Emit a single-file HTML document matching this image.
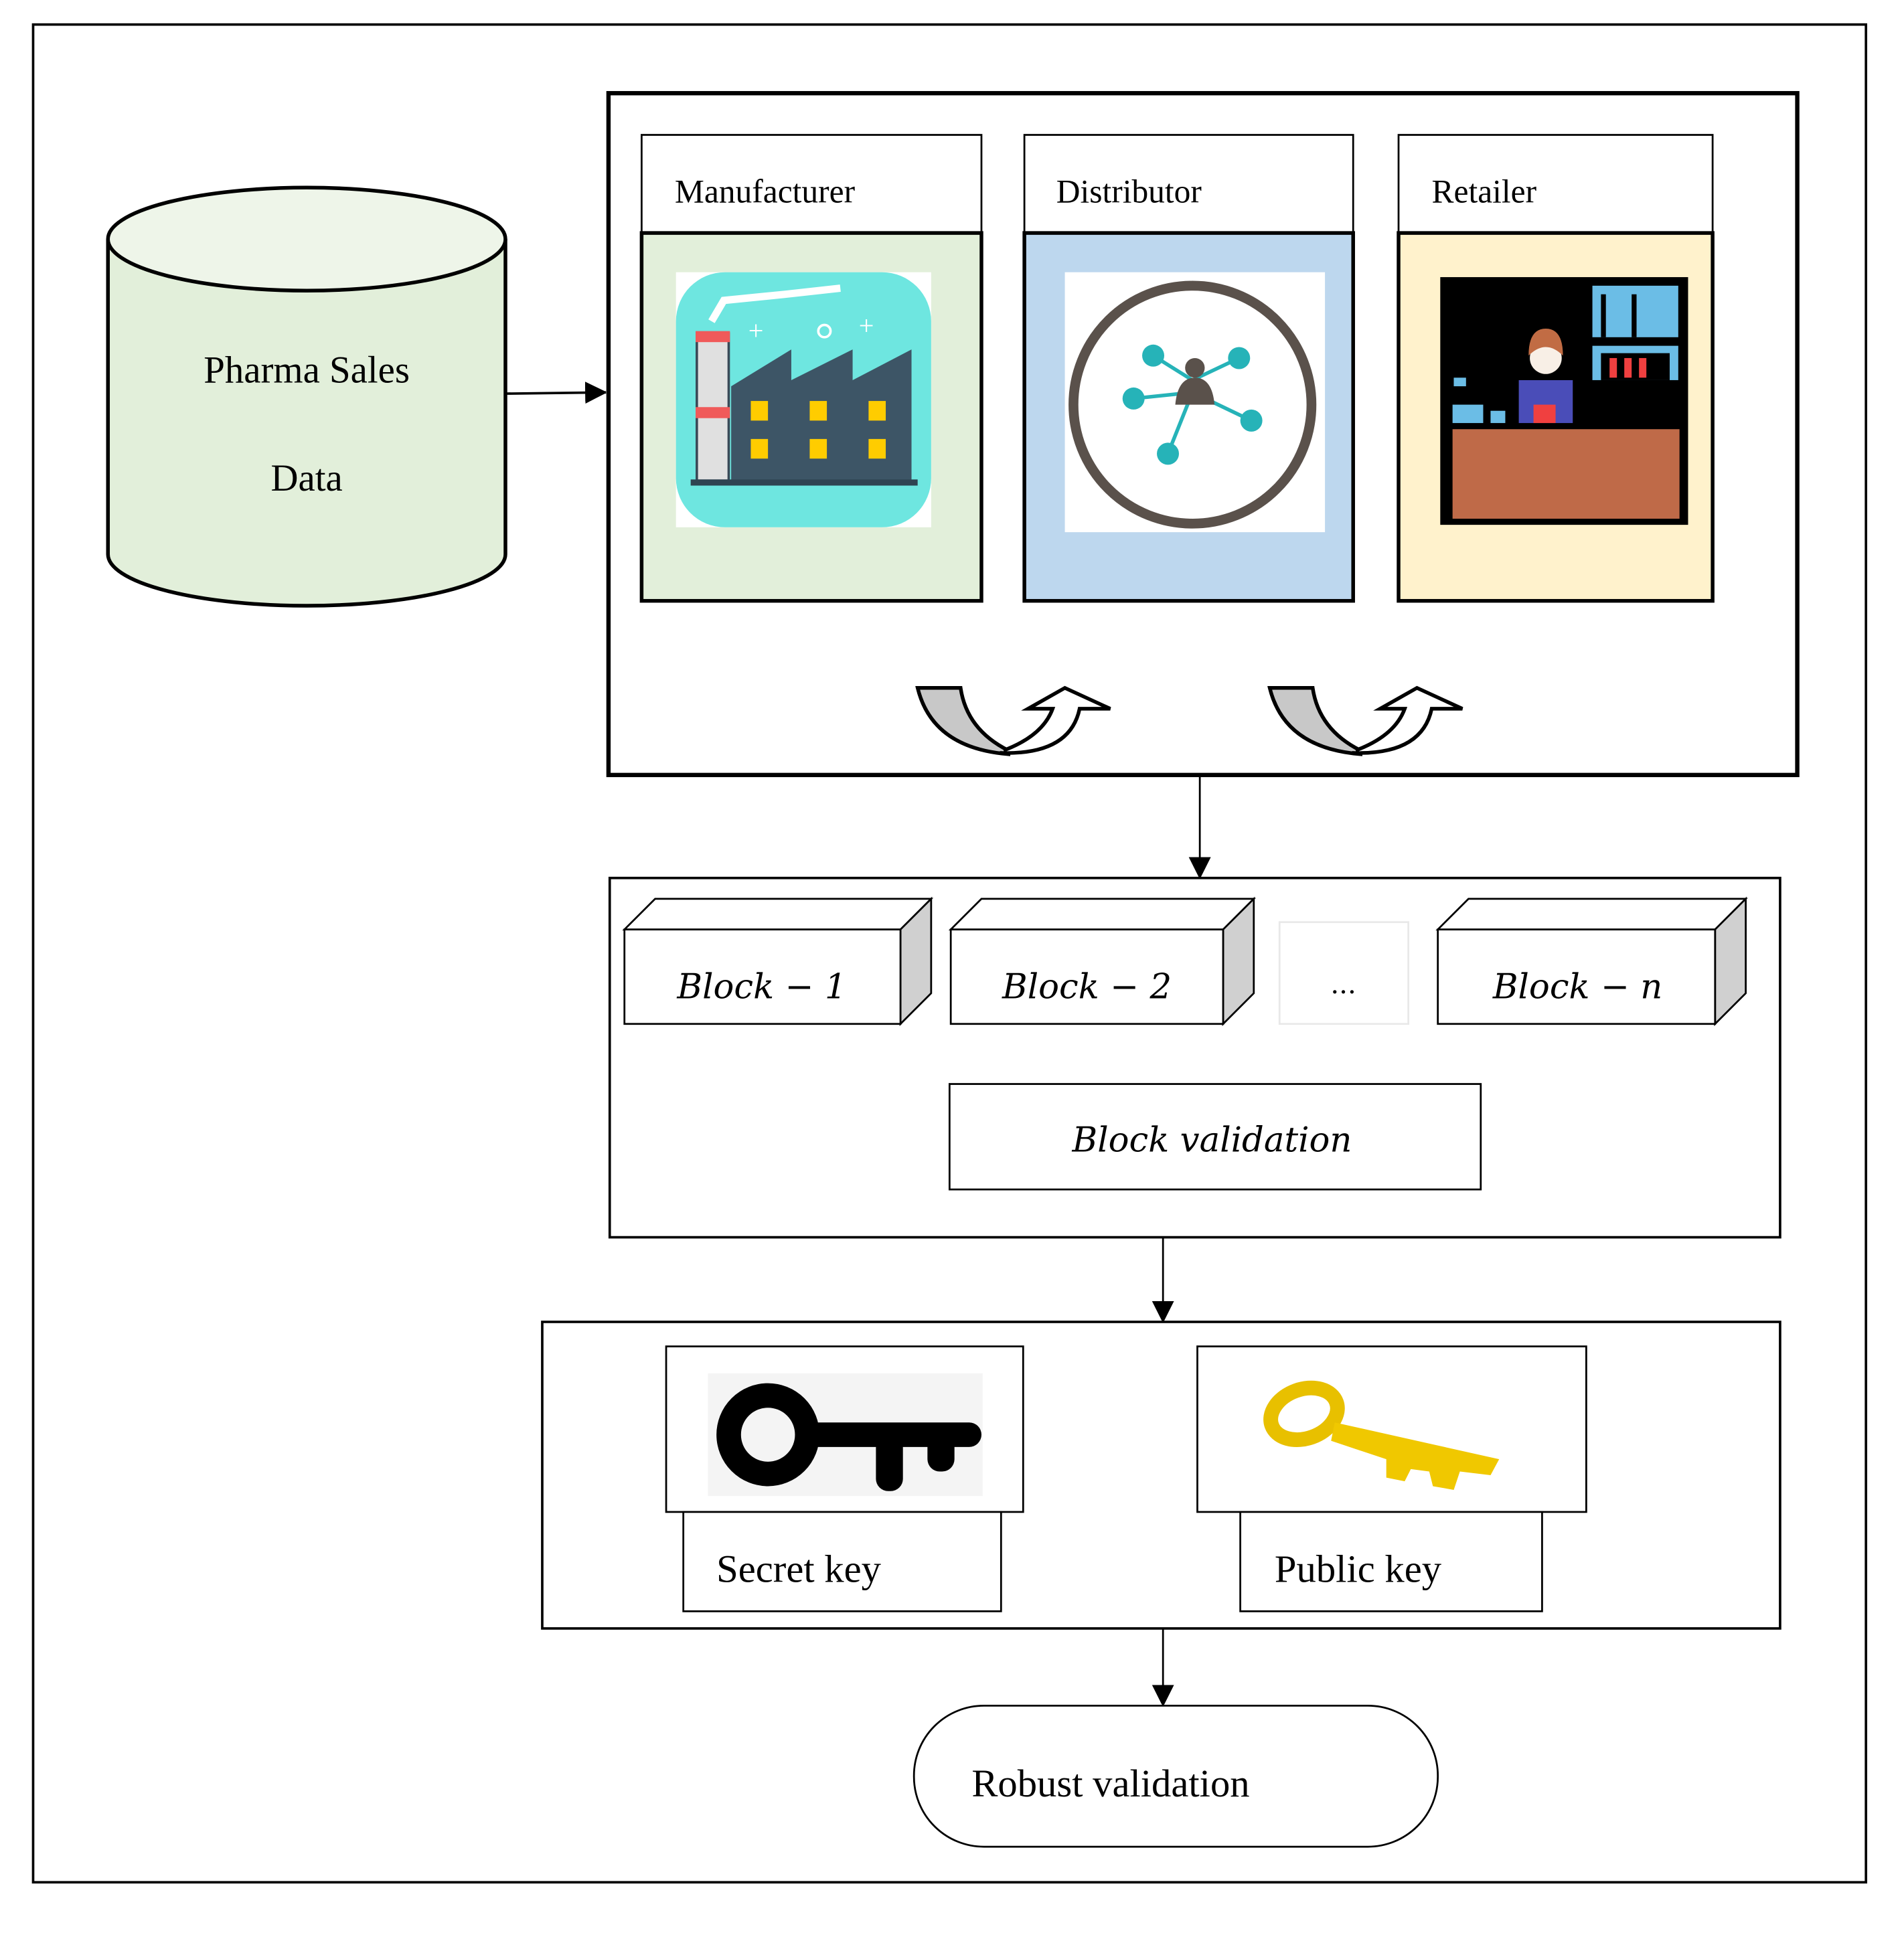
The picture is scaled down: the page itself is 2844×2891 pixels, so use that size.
<!DOCTYPE html>
<html><head><meta charset="utf-8"><style>html,body{margin:0;padding:0;background:#fff}svg{display:block}</style></head><body>
<svg width="2844" height="2891" viewBox="0 0 1552 1578" preserveAspectRatio="none" xmlns="http://www.w3.org/2000/svg" font-family="'Liberation Serif', serif">
<defs><marker id="ar" markerWidth="16" markerHeight="18" refX="17" refY="9" orient="auto" markerUnits="userSpaceOnUse"><path d="M0,0 L18,9 L0,18 z" fill="#000"/></marker></defs>
<rect x="27" y="20" width="1494" height="1515" fill="#fff" stroke="#000" stroke-width="2"/>
<!-- cylinder -->
<path d="M88,195 L88,452 A162,42 0 0 0 412,452 L412,195" fill="#e2efda" stroke="#000" stroke-width="3"/>
<ellipse cx="250" cy="195" rx="162" ry="42" fill="#eef5e9" stroke="#000" stroke-width="3"/>
<text x="250" y="312" font-size="31" text-anchor="middle">Pharma Sales</text>
<text x="250" y="400" font-size="31" text-anchor="middle">Data</text>
<line x1="413" y1="321" x2="494" y2="320" stroke="#000" stroke-width="2" marker-end="url(#ar)"/>
<!-- top box -->
<rect x="496" y="76" width="969" height="556" fill="#fff" stroke="#000" stroke-width="3.5"/>
<rect x="523" y="110" width="277" height="80" fill="#fff" stroke="#000" stroke-width="1.5"/>
<rect x="523" y="190" width="277" height="300" fill="#e2efda" stroke="#000" stroke-width="3"/>
<text x="550" y="165" font-size="27">Manufacturer</text>
<rect x="835" y="110" width="268" height="80" fill="#fff" stroke="#000" stroke-width="1.5"/>
<rect x="835" y="190" width="268" height="300" fill="#bdd7ee" stroke="#000" stroke-width="3"/>
<text x="861" y="165" font-size="27">Distributor</text>
<rect x="1140" y="110" width="256" height="80" fill="#fff" stroke="#000" stroke-width="1.5"/>
<rect x="1140" y="190" width="256" height="300" fill="#fff2cc" stroke="#000" stroke-width="3"/>
<text x="1167" y="165" font-size="27">Retailer</text>
<!-- factory icon -->
<rect x="551" y="222" width="208" height="208" fill="#fff"/>
<rect x="551" y="222" width="208" height="208" rx="40" fill="#6ee6e0"/>
<path d="M580,262 L590,245 L640,240 L685,235" stroke="#fff" stroke-width="6" fill="none"/>
<rect x="568" y="272" width="26" height="120" fill="#e0e0e0" stroke="#3a4a58" stroke-width="2"/>
<rect x="567" y="270" width="28" height="9" fill="#f05a5a"/><rect x="567" y="332" width="28" height="9" fill="#f05a5a"/>
<path d="M596,393 L596,315 L645,285 L645,310 L695,285 L695,310 L743,285 L743,393 Z" fill="#3d5566"/>
<g fill="#ffcc00"><rect x="612" y="327" width="14" height="16"/><rect x="660" y="327" width="14" height="16"/><rect x="708" y="327" width="14" height="16"/><rect x="612" y="358" width="14" height="16"/><rect x="660" y="358" width="14" height="16"/><rect x="708" y="358" width="14" height="16"/></g>
<rect x="563" y="391" width="185" height="5" fill="#2f4452"/>
<text x="610" y="277" font-size="22" fill="#fff">+</text><circle cx="672" cy="270" r="5" fill="none" stroke="#fff" stroke-width="2"/><text x="700" y="273" font-size="22" fill="#fff">+</text>
<!-- distributor icon -->
<rect x="868" y="222" width="212" height="212" fill="#fff"/>
<circle cx="972" cy="330" r="97" fill="none" stroke="#5a514b" stroke-width="8"/>
<g stroke="#26b3b8" stroke-width="3"><line x1="972" y1="310" x2="940" y2="290"/><line x1="972" y1="310" x2="1010" y2="292"/><line x1="972" y1="320" x2="924" y2="325"/><line x1="972" y1="320" x2="1020" y2="343"/><line x1="972" y1="320" x2="952" y2="370"/></g>
<g fill="#26b3b8"><circle cx="940" cy="290" r="9"/><circle cx="1010" cy="292" r="9"/><circle cx="924" cy="325" r="9"/><circle cx="1020" cy="343" r="9"/><circle cx="952" cy="370" r="9"/></g>
<circle cx="974" cy="300" r="8" fill="#5a514b"/><path d="M958,330 Q960,308 974,308 Q988,308 990,330 Z" fill="#5a514b"/>
<!-- retailer icon -->
<rect x="1174" y="226" width="202" height="202" fill="#000"/>
<rect x="1184" y="350" width="185" height="73" fill="#bf6a48"/>
<g fill="#6bbde6"><rect x="1298" y="233" width="70" height="42"/><rect x="1298" y="282" width="70" height="28"/><rect x="1184" y="330" width="25" height="15"/><rect x="1215" y="335" width="12" height="10"/><rect x="1185" y="308" width="10" height="7"/></g>
<g fill="#000"><rect x="1305" y="240" width="4" height="35"/><rect x="1330" y="240" width="4" height="35"/><rect x="1305" y="288" width="56" height="22"/></g>
<g fill="#f04040"><rect x="1312" y="292" width="6" height="16"/><rect x="1324" y="292" width="6" height="16"/><rect x="1336" y="292" width="6" height="16"/></g>
<circle cx="1260" cy="292" r="13" fill="#f8efe6"/><path d="M1246,290 Q1246,268 1260,268 Q1274,268 1274,290 Q1260,276 1246,290 Z" fill="#c16c44"/>
<rect x="1238" y="310" width="44" height="35" fill="#4a4db8"/><rect x="1250" y="330" width="18" height="15" fill="#f04040"/>
<!-- curved arrows -->
<g stroke="#000" stroke-width="3" stroke-linejoin="miter">
<path d="M748,561 L783,561 Q788,595 822,612 L822,615 Q760,610 748,561 Z" fill="#c8c8c8"/>
<path d="M815,614 Q872,616 880,578 L905,578 L868,561 L838,578 L858,578 Q850,600 818,612" fill="#fff"/>
<path d="M1035,561 L1070,561 Q1075,595 1109,612 L1109,615 Q1047,610 1035,561 Z" fill="#c8c8c8"/>
<path d="M1102,614 Q1159,616 1167,578 L1192,578 L1155,561 L1125,578 L1145,578 Q1137,600 1105,612" fill="#fff"/>
</g>
<line x1="978" y1="633" x2="978" y2="716" stroke="#000" stroke-width="1.5" marker-end="url(#ar)"/>
<!-- blocks -->
<rect x="497" y="716" width="954" height="293" fill="#fff" stroke="#000" stroke-width="2"/>
<g stroke="#000" stroke-width="1.5">
<path d="M509,758 L534,733 L759,733 L734,758 Z" fill="#fff"/><path d="M734,758 L759,733 L759,810 L734,835 Z" fill="#d0d0d0"/><rect x="509" y="758" width="225" height="77" fill="#fff"/>
<path d="M775,758 L800,733 L1022,733 L997,758 Z" fill="#fff"/><path d="M997,758 L1022,733 L1022,810 L997,835 Z" fill="#d0d0d0"/><rect x="775" y="758" width="222" height="77" fill="#fff"/>
<path d="M1172,758 L1197,733 L1423,733 L1398,758 Z" fill="#fff"/><path d="M1398,758 L1423,733 L1423,810 L1398,835 Z" fill="#d0d0d0"/><rect x="1172" y="758" width="226" height="77" fill="#fff"/>
<rect x="1043" y="752" width="105" height="83" fill="#fff" stroke="#e8e8e8"/>
<rect x="774" y="884" width="433" height="86" fill="#fff"/>
</g>
<g font-family="'DejaVu Serif','Liberation Serif',serif" font-style="italic" font-size="28" text-anchor="middle">
<text x="621" y="814">Block − 1</text><text x="886" y="814">Block − 2</text><text x="1286" y="814">Block − n</text>
<text x="1095" y="810" font-style="normal" font-size="22">...</text>
<text x="988" y="939">Block validation</text></g>
<line x1="948" y1="1009" x2="948" y2="1078" stroke="#000" stroke-width="1.5" marker-end="url(#ar)"/>
<!-- keys -->
<rect x="442" y="1078" width="1009" height="250" fill="#fff" stroke="#000" stroke-width="2"/>
<rect x="543" y="1098" width="291" height="135" fill="#fff" stroke="#000" stroke-width="1.5"/>
<rect x="577" y="1120" width="224" height="100" fill="#f4f4f4"/>
<circle cx="626" cy="1170" r="32" fill="none" stroke="#000" stroke-width="20"/>
<rect x="655" y="1160" width="145" height="20" rx="10" fill="#000"/><rect x="714" y="1170" width="22" height="46" rx="10" fill="#000"/><rect x="756" y="1170" width="22" height="30" rx="10" fill="#000"/>
<rect x="557" y="1233" width="259" height="81" fill="#fff" stroke="#000" stroke-width="1.5"/>
<text x="584" y="1290" font-size="32">Secret key</text>
<rect x="976" y="1098" width="317" height="135" fill="#fff" stroke="#000" stroke-width="1.5"/>
<ellipse cx="1063" cy="1153" rx="28" ry="20" fill="none" stroke="#e8c000" stroke-width="12" transform="rotate(-20 1063 1153)"/>
<path d="M1088,1160 L1222,1190 L1215,1203 L1190,1200 L1185,1215 L1168,1212 L1165,1200 L1150,1198 L1145,1208 L1130,1205 L1130,1190 L1085,1175 Z" fill="#f0c800"/>
<rect x="1011" y="1233" width="246" height="81" fill="#fff" stroke="#000" stroke-width="1.5"/>
<text x="1039" y="1290" font-size="32">Public key</text>
<line x1="948" y1="1328" x2="948" y2="1391" stroke="#000" stroke-width="1.5" marker-end="url(#ar)"/>
<rect x="745" y="1391" width="427" height="115" rx="57" ry="57" fill="#fff" stroke="#000" stroke-width="1.5"/>
<text x="792" y="1465" font-size="32">Robust validation</text>
</svg>
</body></html>
